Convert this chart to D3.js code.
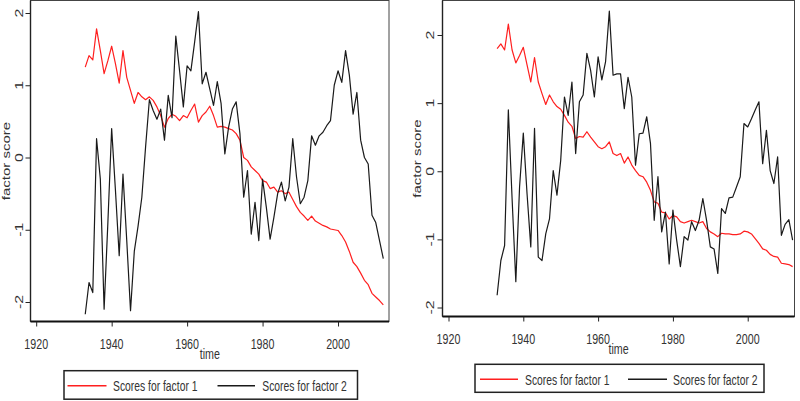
<!DOCTYPE html>
<html>
<head>
<meta charset="utf-8">
<script src="https://cdn.jsdelivr.net/npm/d3@7"></script>
<style>
  html, body { margin: 0; padding: 0; background: #fff; }
  svg { display: block; }
  text { font-family: "Liberation Sans", Arial, sans-serif; }
</style>
</head>
<body>
<svg id="chart" width="800" height="401"></svg>
<script>
// ---------------- DATA ----------------
const years = d3.range(1933, 2013); // 1933 .. 2012

const leftFactor1 = [
  1.25, 1.41, 1.35, 1.78, 1.48, 1.16, 1.34, 1.54, 1.30, 1.03,
  1.48, 1.11, 0.93, 0.75, 0.90, 0.84, 0.80, 0.84, 0.79, 0.70,
  0.58, 0.42, 0.54, 0.60, 0.57, 0.51, 0.58, 0.55, 0.65, 0.74,
  0.49, 0.58, 0.63, 0.71, 0.58, 0.42, 0.43, 0.42, 0.40, 0.38,
  0.33, 0.24, 0.00, -0.04, -0.13, -0.18, -0.23, -0.32, -0.34, -0.43,
  -0.41, -0.48, -0.46, -0.50, -0.48, -0.58, -0.68, -0.76, -0.81, -0.87,
  -0.81, -0.88, -0.91, -0.94, -0.96, -0.99, -1.00, -1.01, -1.08, -1.17,
  -1.30, -1.45, -1.51, -1.60, -1.70, -1.76, -1.88, -1.93, -1.98, -2.04
];
const leftFactor2 = [
  -2.17, -1.73, -1.87, 0.26, -0.30, -2.10, -0.90, 0.40, -0.45, -1.36,
  -0.23, -1.15, -2.12, -1.30, -0.95, -0.55, 0.15, 0.80, 0.65, 0.53,
  0.67, 0.24, 0.86, 0.55, 1.68, 1.20, 0.70, 1.27, 1.20, 1.60,
  2.02, 1.02, 1.18, 0.95, 0.72, 1.05, 0.75, 0.05, 0.42, 0.67,
  0.77, 0.33, -0.55, -0.18, -1.06, -0.62, -1.15, -0.30, -0.69, -1.13,
  -0.83, -0.50, -0.34, -0.60, -0.41, 0.26, -0.27, -0.64, -0.55, -0.32,
  0.30, 0.17, 0.30, 0.35, 0.44, 0.51, 1.00, 1.20, 1.04, 1.48,
  1.14, 0.60, 0.90, 0.24, 0.00, -0.09, -0.80, -0.90, -1.15, -1.40
];
const rightFactor1 = [
  1.80, 1.87, 1.78, 2.16, 1.78, 1.59, 1.70, 1.82, 1.56, 1.31,
  1.67, 1.31, 1.14, 0.98, 1.12, 1.02, 0.95, 0.91, 0.82, 0.72,
  0.66, 0.48, 0.51, 0.50, 0.58, 0.50, 0.43, 0.36, 0.33, 0.36,
  0.43, 0.26, 0.23, 0.26, 0.12, 0.21, 0.09, 0.01, -0.06, -0.08,
  -0.16, -0.28, -0.45, -0.47, -0.60, -0.61, -0.70, -0.65, -0.67, -0.74,
  -0.76, -0.74, -0.72, -0.74, -0.76, -0.74, -0.84, -0.89, -0.92, -0.96,
  -0.91, -0.92, -0.92, -0.93, -0.93, -0.92, -0.88, -0.89, -0.92, -0.99,
  -1.06, -1.14, -1.16, -1.22, -1.25, -1.26, -1.35, -1.36, -1.37, -1.40
];
const rightFactor2 = [
  -1.82, -1.31, -1.09, 0.90, -0.40, -1.62, -0.23, 0.56, -0.33, -1.11,
  0.63, -1.26, -1.31, -0.92, -0.70, 0.01, -0.35, 0.16, 1.09, 0.82,
  1.31, 0.26, 1.02, 1.12, 1.73, 1.48, 1.09, 1.68, 1.34, 1.61,
  2.35, 1.41, 1.43, 1.43, 0.92, 1.38, 1.09, 0.09, 0.55, 0.56,
  0.80, 0.41, -0.72, -0.08, -0.89, -0.60, -1.36, -0.57, -1.01, -1.40,
  -0.96, -1.01, -0.74, -0.87, -0.72, -0.40, -0.72, -1.11, -1.14, -1.50,
  -0.55, -0.62, -0.39, -0.38, -0.23, -0.08, 0.70, 0.65, 0.77, 0.90,
  1.02, 0.11, 0.60, 0.01, -0.18, 0.21, -0.94, -0.78, -0.71, -1.01
];

const xTicks = [1920, 1940, 1960, 1980, 2000];
const yTicks = [-2, -1, 0, 1, 2];
const xTitle = "time";
const yTitle = "factor score";
const seriesNames = ["Scores for factor 1", "Scores for factor 2"];
const seriesColors = ["#ff1f1f", "#1a1a1a"];

// ---------------- LAYOUT ----------------
const SQ = 0.69;         // horizontal squeeze of the original picture's text
const FS = 15;
const txtColor = "#333";

const panels = [
  {
    f1: leftFactor1, f2: leftFactor2,
    box: { x0: 30.5, x1: 389, y0: 0.5, y1: 321.5 },
    xr: [36.2, 383.3], yr: [302, 13],
    yLabX: 19, yTitleX: 6.5, xLabBase: 348.5, xTitleBase: 359,
    legend: { x0: 64, x1: 357.5, y0: 370.7, y1: 399.2, cy: 385.8,
              l1: [67.5, 106.5], t1: 113, l2: [217.5, 255], t2: 262.3 }
  },
  {
    f1: rightFactor1, f2: rightFactor2,
    box: { x0: 442.5, x1: 794.5, y0: 0.5, y1: 316.5 },
    xr: [448.5, 792.6], yr: [307.5, 35],
    yLabX: 430.8, yTitleX: 417, xLabBase: 343.5, xTitleBase: 353.5,
    legend: { x0: 475, x1: 764, y0: 364.3, y1: 392.3, cy: 379.3,
              l1: [480, 518], t1: 525, l2: [628, 667], t2: 673 }
  }
];

const svg = d3.select("#chart");

panels.forEach(p => {
  const g = svg.append("g");
  const x = d3.scaleLinear().domain([1920, 2012]).range(p.xr);
  const y = d3.scaleLinear().domain([-2, 2]).range(p.yr);
  const b = p.box;

  // plot region outline
  g.append("rect")
    .attr("x", b.x0).attr("y", b.y0)
    .attr("width", b.x1 - b.x0).attr("height", b.y1 - b.y0)
    .attr("fill", "none").attr("stroke", "#444").attr("stroke-width", 1);

  // x axis
  const xAxis = g.append("g")
    .attr("transform", `translate(0,${b.y1})`)
    .call(d3.axisBottom(x).tickValues(xTicks).tickSize(5).tickFormat(""));
  xAxis.select(".domain").attr("d", `M${b.x0},0H${b.x1}`)
    .attr("stroke", "#111").attr("stroke-width", 2.2);
  xAxis.selectAll(".tick line").attr("stroke", "#222").attr("stroke-width", 1);

  g.selectAll(".xlab").data(xTicks).enter().append("text")
    .attr("transform", d => `translate(${x(d)},${p.xLabBase}) scale(${SQ},1)`)
    .attr("text-anchor", "middle")
    .attr("font-size", 15.5).attr("fill", txtColor)
    .text(d => d);

  g.append("text")
    .attr("transform", `translate(${(b.x0 + b.x1) / 2},${p.xTitleBase}) scale(${SQ},1)`)
    .attr("text-anchor", "middle")
    .attr("font-size", 15.5).attr("fill", txtColor)
    .text(xTitle);

  // y axis
  const yAxis = g.append("g")
    .attr("transform", `translate(${b.x0},0)`)
    .call(d3.axisLeft(y).tickValues(yTicks).tickSize(5).tickFormat(""));
  yAxis.select(".domain").attr("d", `M0,${b.y0}V${b.y1}`)
    .attr("stroke", "#222").attr("stroke-width", 1.4);
  yAxis.selectAll(".tick line").attr("stroke", "#222").attr("stroke-width", 1);

  g.selectAll(".ylab").data(yTicks).enter().append("text")
    .attr("transform", d => `translate(${p.yLabX},${y(d)}) scale(${SQ},1) rotate(-90)`)
    .attr("text-anchor", "middle")
    .attr("dominant-baseline", "central")
    .attr("font-size", 16).attr("fill", txtColor)
    .text(d => d);

  g.append("text")
    .attr("transform", `translate(${p.yTitleX},${(b.y0 + b.y1) / 2}) scale(${SQ},1) rotate(-90)`)
    .attr("text-anchor", "middle")
    .attr("dominant-baseline", "central")
    .attr("font-size", FS).attr("fill", txtColor)
    .text(yTitle);

  // series lines
  const line = d3.line().x((d, i) => x(years[i])).y(d => y(d));
  [p.f1, p.f2].forEach((vals, k) => {
    g.append("path")
      .attr("d", line(vals))
      .attr("fill", "none")
      .attr("stroke", seriesColors[k])
      .attr("stroke-width", 1.2)
      .attr("stroke-linejoin", "round");
  });

  // legend
  const L = p.legend;
  g.append("rect")
    .attr("x", L.x0).attr("y", L.y0)
    .attr("width", L.x1 - L.x0).attr("height", L.y1 - L.y0)
    .attr("fill", "#fff").attr("stroke", "#222").attr("stroke-width", 1.5);
  const items = [{ l: L.l1, t: L.t1 }, { l: L.l2, t: L.t2 }];
  items.forEach((it, k) => {
    g.append("line")
      .attr("x1", it.l[0]).attr("x2", it.l[1])
      .attr("y1", L.cy).attr("y2", L.cy)
      .attr("stroke", seriesColors[k]).attr("stroke-width", 1.5);
    g.append("text")
      .attr("transform", `translate(${it.t},${L.cy}) scale(${SQ},1)`)
      .attr("dominant-baseline", "central")
      .attr("font-size", FS).attr("fill", txtColor)
      .text(seriesNames[k]);
  });
});
</script>
</body>
</html>
